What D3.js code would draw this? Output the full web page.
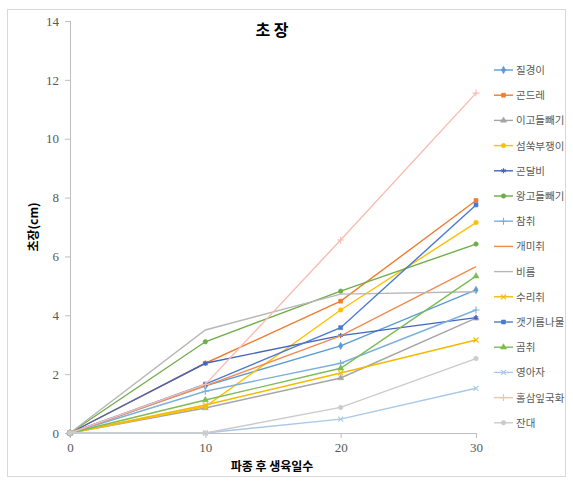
<!DOCTYPE html>
<html><head><meta charset="utf-8">
<script src="https://cdn.jsdelivr.net/npm/d3@7"></script>
<style>body{margin:0;background:#fff;}svg{display:block;}</style>
</head><body>
<svg id="c" width="573" height="486"></svg>
<script>
const days = [0, 10, 20, 30];
const names = ["질경이","곤드레","이고들빼기","섬쑥부쟁이","곤달비","왕고들빼기","참취","개미취","비름","수리취","갯기름나물","곰취","영아자","홀삼잎국화","잔대"];
const v질경이 = [0, 1.6, 2.96, 4.86];
const v곤드레 = [0, 2.37, 4.48, 7.9];
const v이고들빼기 = [0, 0.85, 1.87, 3.9];
const v섬쑥부쟁이 = [0, 0.9, 4.18, 7.15];
const v곤달비 = [0, 2.37, 3.31, 3.92];
const v왕고들빼기 = [0, 3.1, 4.82, 6.42];
const v참취 = [0, 1.42, 2.37, 4.18];
const v개미취 = [0, 1.6, 3.3, 5.65];
const v비름 = [0, 3.5, 4.72, 4.8];
const v수리취 = [0, 0.95, 2.04, 3.16];
const v갯기름나물 = [0, 1.66, 3.58, 7.75];
const v곰취 = [0, 1.12, 2.2, 5.33];
const v영아자 = [0, 0, 0.47, 1.52];
const v홀삼잎국화 = [0, 1.65, 6.56, 11.55];
const v잔대 = [0, 0, 0.87, 2.53];
const values = [v질경이,v곤드레,v이고들빼기,v섬쑥부쟁이,v곤달비,v왕고들빼기,v참취,v개미취,v비름,v수리취,v갯기름나물,v곰취,v영아자,v홀삼잎국화,v잔대];
const yTicks = [0,2,4,6,8,10,12,14];
const xTicks = [0,10,20,30];

const colors = ["#5B9BD5","#ED7D31","#A5A5A5","#FFC000","#4466B8","#70AD47","#7CAFDD","#F28A4E","#B7B7B7","#F2BA00","#4A7BD0","#7DBB55","#A9C8EA","#F8BCB0","#CBCBCB"];
const markers = ["diamond","square","triangle","circle","asterisk","circle","plus",null,null,"times","square","triangle","times","plus","circle"];

const svg = d3.select("#c");
svg.append("rect").attr("x",7.5).attr("y",9.5).attr("width",558).attr("height",467)
  .attr("fill","#fff").attr("stroke","#D9D9D9");

const x = d3.scaleLinear().domain([0,30]).range([70,476]);
const y = d3.scaleLinear().domain([0,14]).range([433,21]);

const serif = "'Liberation Serif','Times New Roman',serif";
const kfont = "'Noto Sans CJK KR','Noto Sans',sans-serif";

const ya = svg.append("g").attr("transform","translate(70,0)")
  .call(d3.axisLeft(y).tickValues(yTicks).tickSize(5).tickPadding(6));
const xa = svg.append("g").attr("transform","translate(0,433)")
  .call(d3.axisBottom(x).tickValues(xTicks).tickSize(5).tickPadding(5));
[ya,xa].forEach(a=>{
  a.selectAll("path,line").attr("stroke","#BFBFBF");
  a.selectAll("text").attr("fill","#595959").style("font-family",serif).style("font-size","13px");
});
ya.select(".domain").attr("d","M0.5,21V433.5");
xa.select(".domain").attr("d","M70,0.5H476");

svg.append("text").attr("x",272).attr("y",36).attr("text-anchor","middle")
  .style("font-family",kfont).style("font-size","16px").style("font-weight","bold").attr("fill","#000").text("초 장");
svg.append("text").attr("transform","translate(38,227) rotate(-90)").attr("text-anchor","middle")
  .style("font-family",kfont).style("font-size","12px").style("font-weight","bold").attr("fill","#000").text("초장(cm)");
svg.append("text").attr("x",272).attr("y",471).attr("text-anchor","middle")
  .style("font-family",kfont).style("font-size","12px").style("font-weight","bold").attr("fill","#000").text("파종 후 생육일수");

const symMap = {diamond:d3.symbolDiamond, square:d3.symbolSquare, triangle:d3.symbolTriangle, circle:d3.symbolCircle,
  asterisk:d3.symbolAsterisk, plus:d3.symbolPlus, times:d3.symbolTimes};
const strokeSyms = new Set(["asterisk","plus","times"]);
const line = d3.line().x((d,i)=>x(days[i])).y(d=>y(d));

function drawMarker(g, m, c, px, py){
  if(!m) return;
  const isStroke = strokeSyms.has(m);
  const size = isStroke ? 18 : 16;
  g.append("path").attr("d", d3.symbol().type(symMap[m]).size(size)())
    .attr("transform",`translate(${px},${py})`)
    .attr("fill", isStroke ? "none" : c).attr("stroke", c).attr("stroke-width", isStroke?1.1:0.6);
}

const plot = svg.append("g");
values.forEach((vals,si)=>{
  const g = plot.append("g");
  g.append("path").attr("d", line(vals)).attr("fill","none").attr("stroke",colors[si]).attr("stroke-width",1.4);
  vals.forEach((v,i)=> drawMarker(g, markers[si], colors[si], x(days[i]), y(v)));
});

const leg = svg.append("g");
names.forEach((n,i)=>{
  const ly = 70 + i*25.2;
  leg.append("line").attr("x1",494).attr("x2",513).attr("y1",ly).attr("y2",ly).attr("stroke",colors[i]).attr("stroke-width",1.4);
  drawMarker(leg, markers[i], colors[i], 503.5, ly);
  leg.append("text").attr("x",516).attr("y",ly+4).style("font-family",kfont).style("font-size","10.5px")
    .attr("fill","#595959").text(n);
});
</script>
</body></html>
